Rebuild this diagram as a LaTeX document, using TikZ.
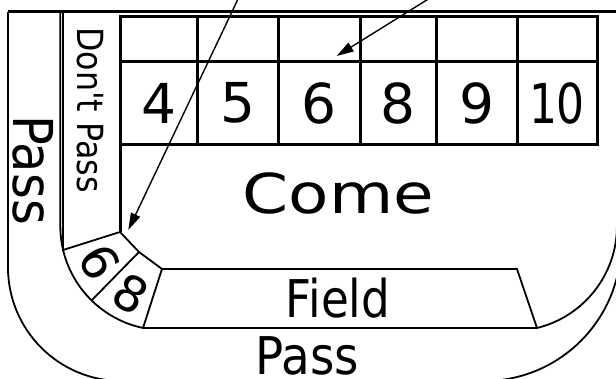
\documentclass[tikz,border=0pt]{standalone}
\usepackage{fontspec}
\setmainfont{DejaVu Sans}[Ligatures=TeXOff]
\usetikzlibrary{arrows.meta}

\begin{document}
\begin{tikzpicture}[
x=1pt, y=-1pt,
rail/.style={line width=1.8pt},
grid/.style={line width=3pt},
digit/.style={inner sep=0pt, font=\fontsize{55}{55}\selectfont},
wedge/.style={inner sep=0pt, font=\fontsize{49}{49}\selectfont},
label/.style={inner sep=0pt, font=\fontsize{52}{52}\selectfont},
pointer/.style={-{Triangle[length=17pt,width=10pt]}, line width=1.4pt}
]
\useasboundingbox (0,0) rectangle (616,379);
\clip (0,0) rectangle (616,379);

% rail
\draw[grid] (8,12) -- (620,12);
\draw[rail] (8,12) -- (8,267.4) arc[start angle=180, end angle=90, radius=113.6]
  -- (484,381) arc[start angle=90, end angle=0, radius=137];
\draw[rail] (60.3,12) -- (60.3,226) arc[start angle=180, end angle=101.9, radius=104.2]
  -- (537,328) arc[start angle=76.2, end angle=0, radius=105];

% don't pass bar and the 6/8 wedge
\draw[rail] (63,12) -- (63,250) -- (120,232);
\draw[grid] (120,16.5) -- (120,232);
\draw[rail] (120,232) -- (139,252) -- (162,269);
\draw[rail] (139,252) -- (91.6,300.4);

% field
\draw[rail] (143,328) -- (162,269) -- (517,269) -- (537,328);

% place numbers
\draw[grid] (120,16.5) rectangle (597.5,144.5);
\draw[grid] (120,62) -- (597.5,62);
\draw[grid] (197,16.5) -- (197,144.5);
\draw[grid] (278,16.5) -- (278,144.5);
\draw[grid] (360,16.5) -- (360,144.5);
\draw[grid] (436,16.5) -- (436,144.5);
\draw[grid] (517,16.5) -- (517,144.5);

\node[digit] (n4) at (158.5,103) {4};
\node[digit] (n5) at (237.5,103) {5};
\node[digit] (n6) at (319,103) {6};
\node[digit] (n8) at (398,103) {8};
\node[digit] (n9) at (476.5,103) {9};
\node[digit] (n10) at (557,103) {\scalebox{0.8}[1]{10}};

\node[digit] (come) at (338.5,193) {\scalebox{1.2}[1]{Come}};
\node[label] (field) at (338,298) {\scalebox{0.87}[1]{Field}};
\node[label] (pass) at (307.5,356) {\scalebox{0.9}[1]{Pass}};
\node[digit, rotate=-90] (sidepass) at (33,170) {\scalebox{0.9}[1]{Pass}};
\node[inner sep=0pt, font=\fontsize{36}{36}\selectfont, rotate=-90] (dontpass) at (90,110) {\scalebox{0.88}[1]{Don't Pass}};
\node[wedge, rotate=-60] (w6) at (100,262) {6};
\node[wedge, rotate=-30] (w8) at (131,294) {8};

% pointers
\coordinate (from1) at (238.5,-2);
\coordinate (to1) at (128.3,230);
\coordinate (from2) at (430,-2);
\coordinate (to2) at (336.7,56);
\draw[pointer] (from1) -- (to1);
\draw[pointer] (from2) -- (to2);
\end{tikzpicture}
\end{document}
